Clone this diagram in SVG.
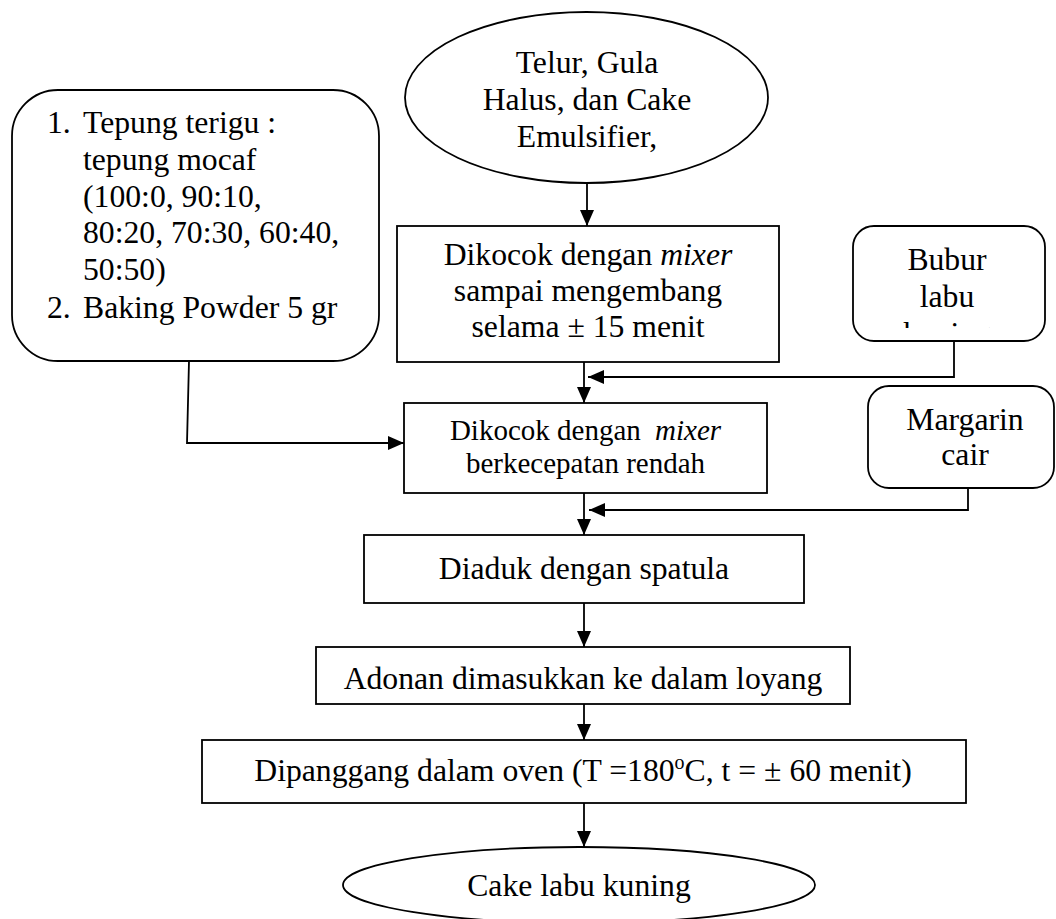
<svg xmlns="http://www.w3.org/2000/svg" width="1056" height="919" viewBox="0 0 1056 919">
<style>
.s{fill:#fff;stroke:#000;stroke-width:1.8}
.c{fill:none;stroke:#000;stroke-width:1.8}
text{font-family:"Liberation Serif","Times New Roman",serif;font-size:31.7px;fill:#000}
.m{text-anchor:middle}
.sm{font-size:29px}
</style>
<defs>
<marker id="ah" viewBox="0 0 16 14" refX="16" refY="7" markerWidth="16" markerHeight="14" markerUnits="userSpaceOnUse" orient="auto">
<path d="M0,0 L16,7 L0,14 Z" fill="#000"/>
</marker>
<clipPath id="bclip"><rect x="853" y="226" width="192" height="102"/></clipPath>
</defs>
<rect width="1056" height="919" fill="#fff"/>

<g id="connectors">
<line class="c" x1="587" y1="183" x2="587" y2="226" marker-end="url(#ah)"/>
<line class="c" x1="584" y1="362" x2="584" y2="403" marker-end="url(#ah)"/>
<polyline class="c" points="954,341 954,377 588,377" marker-end="url(#ah)"/>
<polyline class="c" points="189,361 187,443 404,443" marker-end="url(#ah)"/>
<line class="c" x1="584" y1="493" x2="584" y2="535" marker-end="url(#ah)"/>
<polyline class="c" points="968,488 968,510 589,510" marker-end="url(#ah)"/>
<line class="c" x1="584" y1="603" x2="584" y2="647" marker-end="url(#ah)"/>
<line class="c" x1="584" y1="704" x2="584" y2="740" marker-end="url(#ah)"/>
<line class="c" x1="584" y1="803" x2="584" y2="847" marker-end="url(#ah)"/>
</g>

<g id="n-telur">
<ellipse class="s" cx="586.5" cy="97.5" rx="181.5" ry="85.5"/>
<text class="m" x="587" y="73">Telur, Gula</text>
<text class="m" x="587" y="110">Halus, dan Cake</text>
<text class="m" x="587" y="147">Emulsifier,</text>
</g>

<g id="n-tepung">
<rect class="s" x="12" y="90" width="367" height="271" rx="46" ry="46"/>
<text x="47" y="133">1.</text><text x="83" y="133">Tepung terigu :</text>
<text x="83" y="170">tepung mocaf</text>
<text x="83" y="207">(100:0, 90:10,</text>
<text x="83" y="243">80:20, 70:30, 60:40,</text>
<text x="83" y="280">50:50)</text>
<text x="47" y="318">2.</text><text x="83" y="318">Baking Powder 5 gr</text>
</g>

<g id="n-kocok1">
<rect class="s" x="397" y="226" width="382" height="136"/>
<text class="m" x="588" y="265">Dikocok dengan <tspan font-style="italic">mixer</tspan></text>
<text class="m" x="588" y="301">sampai mengembang</text>
<text class="m" x="588" y="337">selama ± 15 menit</text>
</g>

<g id="n-bubur">
<rect class="s" x="853" y="226" width="192" height="115" rx="21" ry="21"/>
<text class="m" x="947" y="270">Bubur</text>
<text class="m" x="947" y="307">labu</text>
<text class="m" x="947" y="344" clip-path="url(#bclip)">kuning</text>
</g>

<g id="n-kocok2">
<rect class="s" x="404" y="403" width="363" height="90"/>
<text class="m sm" x="585.5" y="440">Dikocok dengan <tspan dx="7" font-style="italic">mixer</tspan></text>
<text class="m sm" x="585.5" y="473">berkecepatan rendah</text>
</g>

<g id="n-margarin">
<rect class="s" x="868" y="386" width="186" height="102" rx="21" ry="21"/>
<text class="m" x="965" y="430">Margarin</text>
<text class="m" x="965" y="465">cair</text>
</g>

<g id="n-aduk">
<rect class="s" x="364" y="535" width="440" height="68"/>
<text class="m" x="584" y="579">Diaduk dengan spatula</text>
</g>

<g id="n-adonan">
<rect class="s" x="316" y="647" width="534" height="57"/>
<text class="m" x="583" y="689">Adonan dimasukkan ke dalam loyang</text>
</g>

<g id="n-panggang">
<rect class="s" x="202" y="740" width="764" height="63"/>
<text class="m" x="583" y="781">Dipanggang dalam oven (T =180<tspan font-size="20" dy="-12">o</tspan><tspan dy="12">C, t = ± 60 menit)</tspan></text>
</g>

<g id="n-cake">
<ellipse class="s" cx="579" cy="885" rx="236" ry="38"/>
<text class="m" x="579" y="896">Cake labu kuning</text>
</g>
</svg>
